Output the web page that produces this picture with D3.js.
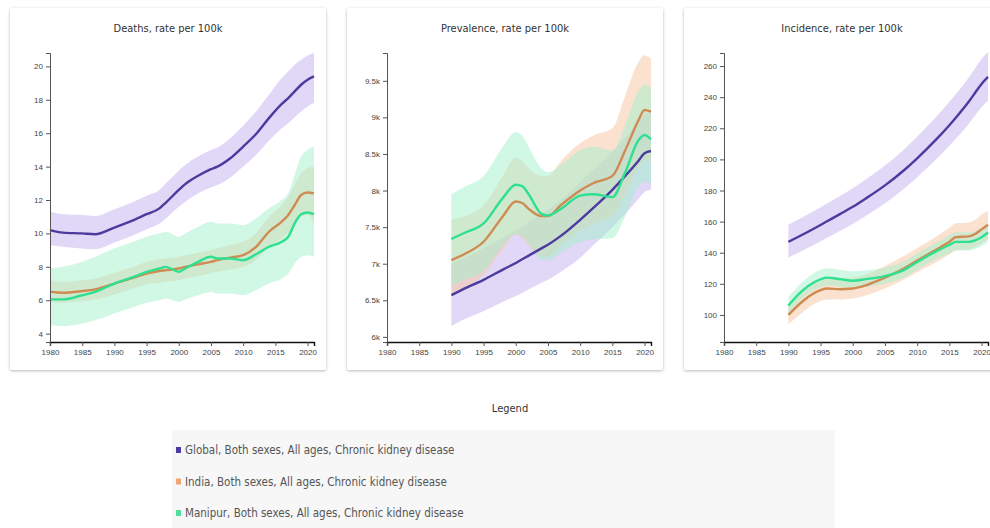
<!DOCTYPE html>
<html>
<head>
<meta charset="utf-8">
<script src="https://cdn.jsdelivr.net/npm/d3@7"></script>
<style>
  body { margin: 0; background: #fff; overflow: hidden; }
  svg { display: block; font-family: "DejaVu Sans Condensed", "DejaVu Sans", sans-serif; }
  .tick text { fill: #444; font-size: 8px; }
  .tick line { stroke: #555; }
</style>
</head>
<body>
<svg id="chart" width="990" height="528"></svg>
<script>
// series names + colours
const seriesNames = ["Global, Both sexes, All ages, Chronic kidney disease",
  "India, Both sexes, All ages, Chronic kidney disease",
  "Manipur, Both sexes, All ages, Chronic kidney disease"];
const lineColors = ["#4b3b9e", "#cf8b52", "#2ee08f"];
const bandColors = ["#c4b1ef", "#f8c6a2", "#a3efcc"];
const keyColors = ["#4b3b9e", "#eca774", "#50dd9e"];

// deaths, rate per 100k
const deathYears = [1980,1982,1985,1987,1990,1993,1995,1997,1998,2000,2001,2003,2005,2006,2008,2010,2012,2014,2016,2017,2018,2019,2020,2021];
const deathGlobal   = [10.2,10.05,10.0,9.95,10.35,10.8,11.15,11.5,11.85,12.6,12.95,13.45,13.85,14.0,14.5,15.2,15.95,16.9,17.75,18.1,18.5,18.9,19.2,19.4];
const deathGlobalLo = [9.3,9.2,9.1,9.05,9.45,9.9,10.25,10.6,10.9,11.6,11.9,12.4,12.75,12.9,13.35,14.0,14.7,15.55,16.3,16.6,16.95,17.3,17.6,17.8];
const deathGlobalHi = [11.3,11.15,11.1,11.05,11.45,11.9,12.25,12.6,13.0,13.75,14.1,14.6,15.0,15.15,15.7,16.45,17.3,18.3,19.3,19.7,20.1,20.4,20.65,20.8];
const deathIndia    = [6.5,6.45,6.55,6.65,7.0,7.35,7.6,7.75,7.8,7.9,8.0,8.15,8.3,8.4,8.55,8.7,9.2,10.1,10.7,11.1,11.7,12.3,12.45,12.4];
const deathIndiaLo  = [5.9,5.85,5.95,6.05,6.35,6.7,6.95,7.05,7.1,7.2,7.3,7.45,7.6,7.7,7.85,8.0,8.4,9.2,9.7,10.05,10.5,11.0,11.1,10.5];
const deathIndiaHi  = [7.2,7.1,7.2,7.3,7.65,8.0,8.3,8.45,8.5,8.6,8.7,8.85,9.0,9.1,9.3,9.5,10.0,11.0,11.7,12.2,12.9,13.6,13.9,14.0];
const deathManipur   = [6.05,6.05,6.3,6.5,7.0,7.4,7.7,7.9,8.0,7.7,7.9,8.3,8.6,8.5,8.5,8.4,8.75,9.2,9.5,9.8,10.6,11.15,11.25,11.15];
const deathManipurLo = [4.5,4.45,4.6,4.8,5.2,5.6,5.85,6.0,6.1,5.9,6.05,6.3,6.5,6.4,6.4,6.3,6.6,7.0,7.3,7.6,8.2,8.6,8.7,8.6];
const deathManipurHi = [7.9,8.0,8.3,8.6,9.1,9.5,9.8,10.0,10.1,9.8,10.0,10.4,10.7,10.6,10.6,10.5,10.9,11.5,12.0,12.4,13.5,14.6,15.0,15.2];
const deathTicks = [4,6,8,10,12,14,16,18,20];

// prevalence, rate per 100k
const prevYears = [1990,1992,1995,1998,2000,2001,2002,2004,2005,2007,2010,2012,2015,2017,2019,2020,2021];
const prevGlobal   = [6570,6660,6780,6920,7010,7060,7110,7210,7260,7380,7600,7760,8010,8200,8400,8510,8540];
const prevGlobalLo = [6150,6240,6350,6480,6560,6600,6650,6740,6780,6890,7080,7250,7500,7680,7880,7980,8010];
const prevGlobalHi = [7000,7080,7210,7360,7460,7510,7570,7680,7740,7870,8110,8280,8530,8730,8930,9040,9080];
const prevIndia    = [7050,7130,7300,7650,7850,7830,7750,7650,7650,7800,8000,8100,8200,8550,8950,9100,9080];
const prevIndiaLo  = [6550,6650,6850,7200,7400,7350,7250,7100,7100,7250,7450,7550,7650,7950,8300,8420,8380];
const prevIndiaHi  = [7600,7650,7800,8200,8450,8400,8300,8200,8200,8400,8650,8750,8850,9300,9750,9850,9800];
const prevManipur   = [7340,7420,7550,7900,8080,8060,7950,7680,7660,7750,7930,7950,7910,8250,8680,8760,8700];
const prevManipurLo = [6700,6780,6900,7250,7400,7380,7280,7050,7050,7150,7300,7330,7350,7650,8050,8120,8080];
const prevManipurHi = [7950,8050,8200,8600,8800,8750,8600,8300,8250,8350,8550,8600,8550,8900,9350,9450,9400];
const prevTicks = [6000,6500,7000,7500,8000,8500,9000,9500];

// incidence, rate per 100k
const incYears = [1990,1992,1994,1996,1998,2000,2002,2005,2008,2010,2013,2015,2016,2018,2019,2020,2021];
const incGlobal   = [147,151.2,155.6,160.2,164.8,169.5,174.8,183.3,193.2,200.7,213,222,226.8,237,242.8,248.5,253];
const incGlobalLo = [137,141,145.2,149.6,154,158.5,163.6,171.8,181.3,188.5,200.2,208.8,213.2,222.8,228.2,233.5,237.8];
const incGlobalHi = [158,162.3,166.8,171.6,176.5,181.4,187,196,206.5,214.5,227.5,237,242,252.5,258.6,264.5,269];
const incIndia    = [100,108,114,117,116.5,117,119,124,130,135,142,147,150,150.5,152,155,158];
const incIndiaLo  = [94,101,107,110,110,110.5,112.5,117,123,127.5,134,139,141.5,142,143.5,146,149];
const incIndiaHi  = [106,114.5,121,124,123.5,124,126,131.5,138,143,150.5,156,159,159.5,161,164.5,167];
const incManipur   = [106,115,121,124,123,122,123,125,129,134,141,145,147,147,148,150,153];
const incManipurLo = [101,110,116,119,118,117,118,120,124,129,136,139.5,141.5,141.5,142.5,144.5,147];
const incManipurHi = [111.5,120.5,127,130,129,128,128.5,130.5,134.5,139.5,146.5,151,153,153,154,156,159.5];
const incTicks = [100,120,140,160,180,200,220,240,260];

const yearTicks = [1980,1985,1990,1995,2000,2005,2010,2015,2020];

const panels = [
  { title: "Deaths, rate per 100k", years: deathYears, domain: [3.5, 20.8], ticks: deathTicks, fmt: d3.format("d"),
    series: [[deathGlobal, deathGlobalLo, deathGlobalHi], [deathIndia, deathIndiaLo, deathIndiaHi], [deathManipur, deathManipurLo, deathManipurHi]] },
  { title: "Prevalence, rate per 100k", years: prevYears, domain: [5930, 9880], ticks: prevTicks, fmt: d => d3.format("~s")(d),
    series: [[prevGlobal, prevGlobalLo, prevGlobalHi], [prevIndia, prevIndiaLo, prevIndiaHi], [prevManipur, prevManipurLo, prevManipurHi]] },
  { title: "Incidence, rate per 100k", years: incYears, domain: [82.6, 268.4], ticks: incTicks, fmt: d3.format("d"),
    series: [[incGlobal, incGlobalLo, incGlobalHi], [incIndia, incIndiaLo, incIndiaHi], [incManipur, incManipurLo, incManipurHi]] }
];

const svg = d3.select("#chart");

// shadow for the cards
const defs = svg.append("defs");
const f = defs.append("filter").attr("id", "shadow").attr("x", "-5%").attr("y", "-5%").attr("width", "110%").attr("height", "110%");
f.append("feDropShadow").attr("dx", 0).attr("dy", 1).attr("stdDeviation", 1.6).attr("flood-color", "#000").attr("flood-opacity", 0.28);

const cardW = 316, cardH = 362, cardY = 8;
const m = { left: 40, right: 12, top: 45, bottom: 28 };

panels.forEach((p, i) => {
  const cx = 10 + i * 337;
  const g = svg.append("g").attr("transform", `translate(${cx},${cardY})`);

  g.append("rect").attr("width", cardW).attr("height", cardH).attr("rx", 2)
    .attr("fill", "#fff").attr("filter", "url(#shadow)");

  g.append("text").attr("x", cardW / 2).attr("y", 24).attr("text-anchor", "middle")
    .attr("font-size", 11).attr("fill", "#333").text(p.title);

  const x = d3.scaleLinear().domain([1980, 2021]).range([m.left, cardW - m.right]);
  const y = d3.scaleLinear().domain(p.domain).range([cardH - m.bottom, m.top]);

  // bands first, then lines
  p.series.forEach((s, k) => {
    const rows = p.years.map((yr, j) => ({ yr, lo: s[1][j], hi: s[2][j] }));
    g.append("path").datum(rows)
      .attr("fill", bandColors[k]).attr("fill-opacity", 0.5)
      .attr("d", d3.area().x(d => x(d.yr)).y0(d => y(d.lo)).y1(d => y(d.hi)).curve(d3.curveMonotoneX));
  });
  p.series.forEach((s, k) => {
    const rows = p.years.map((yr, j) => ({ yr, v: s[0][j] }));
    g.append("path").datum(rows)
      .attr("fill", "none").attr("stroke", lineColors[k]).attr("stroke-width", 2.4)
      .attr("d", d3.line().x(d => x(d.yr)).y(d => y(d.v)).curve(d3.curveMonotoneX));
  });

  g.append("g").attr("transform", `translate(${m.left},0)`)
    .call(d3.axisLeft(y).tickValues(p.ticks).tickFormat(p.fmt).tickSize(4).tickSizeOuter(4))
    .call(a => a.select(".domain").attr("stroke", "#555"));

  g.append("g").attr("transform", `translate(0,${cardH - m.bottom})`)
    .call(d3.axisBottom(x).tickValues(yearTicks).tickFormat(d3.format("d")).tickSize(4).tickSizeOuter(4))
    .call(a => a.select(".domain").attr("stroke", "#111").attr("stroke-width", 1.4));
});

// legend
svg.append("text").attr("x", 510).attr("y", 412).attr("text-anchor", "middle")
  .attr("font-size", 11).attr("fill", "#333").text("Legend");
svg.append("rect").attr("x", 172).attr("y", 430).attr("width", 663).attr("height", 110).attr("fill", "#f7f7f7");

const leg = svg.selectAll(".leg").data(seriesNames).enter().append("g")
  .attr("class", "leg")
  .attr("transform", (d, i) => `translate(176,${450 + i * 31.5})`);
leg.append("rect").attr("x", 0).attr("y", -3).attr("width", 5).attr("height", 6)
  .attr("fill", (d, i) => keyColors[i]);
leg.append("text").attr("x", 9).attr("y", 4).attr("font-size", 11.5).attr("fill", "#555").text(d => d);
</script>
</body>
</html>
